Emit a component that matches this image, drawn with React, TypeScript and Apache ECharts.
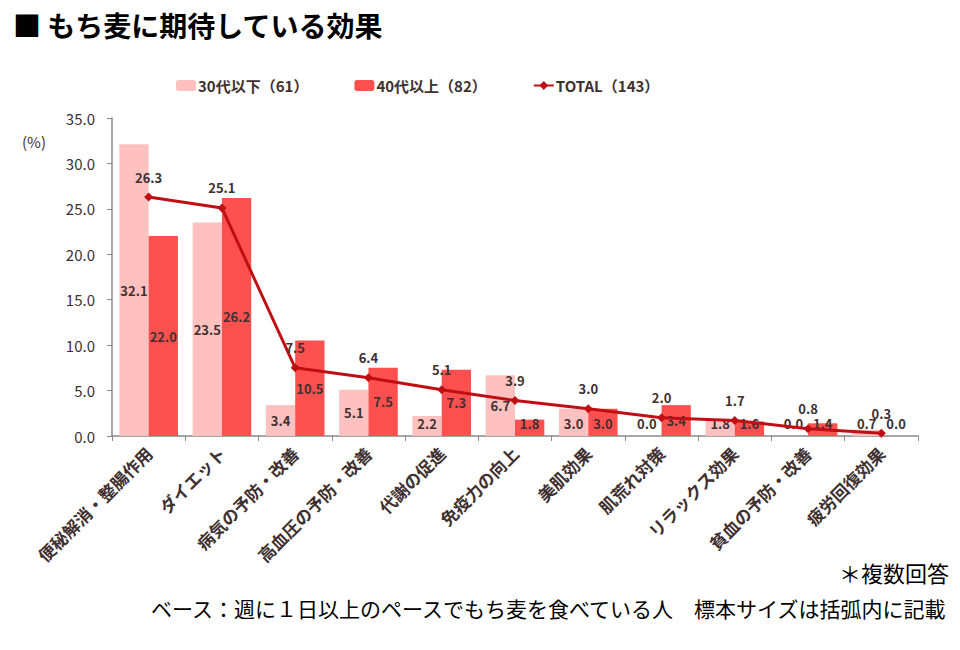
import React, { useEffect, useRef } from "react";
import * as echarts from "echarts";

const categories = [
  "便秘解消・整腸作用",
  "ダイエット",
  "病気の予防・改善",
  "高血圧の予防・改善",
  "代謝の促進",
  "免疫力の向上",
  "美肌効果",
  "肌荒れ対策",
  "リラックス効果",
  "貧血の予防・改善",
  "疲労回復効果",
];
const under30 = [32.1, 23.5, 3.4, 5.1, 2.2, 6.7, 3.0, 0.0, 1.8, 0.0, 0.7];
const over40 = [22.0, 26.2, 10.5, 7.5, 7.3, 1.8, 3.0, 3.4, 1.6, 1.4, 0.0];
const total = [26.3, 25.1, 7.5, 6.4, 5.1, 3.9, 3.0, 2.0, 1.7, 0.8, 0.3];
const seriesNames = ["30代以下（61）", "40代以上（82）", "TOTAL（143）"];

const FONT = "'Noto Sans CJK JP', sans-serif";
const TXT = "#403030";

function barData(values: number[]) {
  return values.map((v) => ({
    value: v,
    label: v < 3.1 ? { position: "insideBottom", distance: 6 } : { position: "inside" },
  }));
}

export default function App() {
  const ref = useRef<HTMLDivElement>(null);
  useEffect(() => {
    document.body.style.margin = "0";
    const chart = echarts.init(ref.current!, null, { renderer: "svg" });
    const barLabel = {
      show: true,
      color: TXT,
      fontFamily: FONT,
      fontWeight: "bold",
      fontSize: 13,
      formatter: (p: any) => Number(p.value).toFixed(1),
    };
    chart.setOption({
      animation: false,
      backgroundColor: "#ffffff",
      textStyle: { fontFamily: FONT },
      title: {
        text: "■ もち麦に期待している効果",
        left: 8,
        top: 6,
        textStyle: { fontFamily: FONT, fontSize: 28, fontWeight: "bold", color: "#000" },
      },
      legend: {
        left: 171,
        top: 73,
        itemGap: 46,
        itemWidth: 20,
        itemHeight: 11,
        data: seriesNames,
        textStyle: { fontFamily: FONT, fontSize: 15, fontWeight: "bold", color: TXT, padding: [0, 0, 0, -3] },
      },
      grid: { left: 112, right: 42, top: 118, bottom: 214 },
      xAxis: {
        type: "category",
        data: categories,
        axisLine: { lineStyle: { color: "#888888", width: 1.5 } },
        axisTick: { show: true, length: 5, lineStyle: { color: "#888888" } },
        axisLabel: {
          rotate: 45,
          interval: 0,
          color: TXT,
          fontFamily: FONT,
          fontWeight: "bold",
          fontSize: 17,
          margin: 14,
        },
      },
      yAxis: {
        type: "value",
        min: 0,
        max: 35,
        interval: 5,
        axisLine: { show: true, lineStyle: { color: "#888888", width: 1.5 } },
        axisTick: { show: true, length: 5, lineStyle: { color: "#888888" } },
        splitLine: { show: false },
        axisLabel: {
          color: TXT,
          fontFamily: FONT,
          fontSize: 15,
          margin: 17,
          formatter: (v: number) => v.toFixed(1),
        },
      },
      graphic: [
        {
          type: "text",
          left: 22,
          top: 134,
          style: { text: "(%)", fontFamily: FONT, fontSize: 15, fill: TXT },
        },
        {
          type: "text",
          right: 11,
          top: 561,
          style: { text: "＊複数回答", fontFamily: FONT, fontSize: 22, fill: "#000" },
        },
        {
          type: "text",
          right: 11,
          top: 597,
          style: {
            text: "ベース：週に１日以上のペースでもち麦を食べている人　標本サイズは括弧内に記載",
            fontFamily: FONT,
            fontSize: 21,
            fill: "#000",
          },
        },
      ],
      series: [
        {
          name: seriesNames[0],
          type: "bar",
          data: barData(under30),
          barGap: "0%",
          barCategoryGap: "20%",
          itemStyle: { color: "#FFC0C0" },
          label: barLabel,
        },
        {
          name: seriesNames[1],
          type: "bar",
          data: barData(over40),
          barGap: "0%",
          barCategoryGap: "20%",
          itemStyle: { color: "#FF5050" },
          label: barLabel,
        },
        {
          name: seriesNames[2],
          type: "line",
          data: total,
          symbol: "diamond",
          symbolSize: 9,
          lineStyle: { color: "#C00F14", width: 3 },
          itemStyle: { color: "#C00F14" },
          z: 5,
          label: {
            show: true,
            position: "top",
            distance: 9,
            color: TXT,
            fontFamily: FONT,
            fontWeight: "bold",
            fontSize: 13,
            formatter: (p: any) => Number(p.value).toFixed(1),
          },
        },
      ],
    });
    return () => chart.dispose();
  }, []);
  return <div ref={ref} style={{ width: 960, height: 650 }} />;
}
